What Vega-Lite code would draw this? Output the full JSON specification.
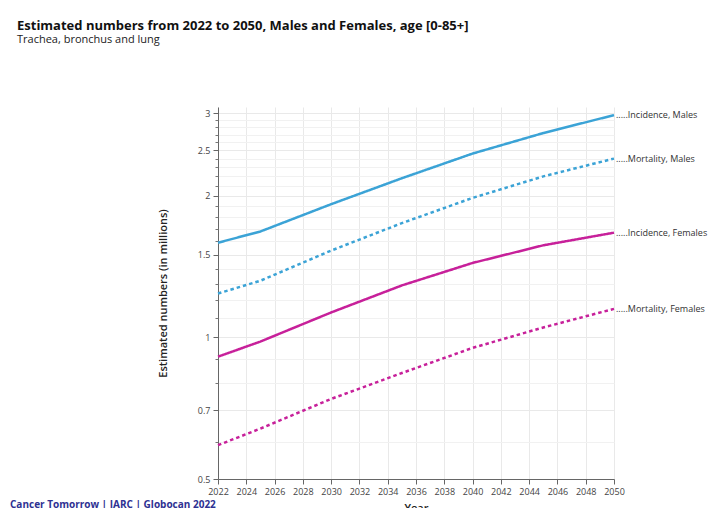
{
  "$schema": "https://vega.github.io/schema/vega-lite/v6.json",
  "width": 396,
  "height": 372,
  "autosize": {"type": "none"},
  "padding": {"left": 218, "top": 107, "right": 98, "bottom": 29},
  "background": "white",
  "config": {
    "view": {"stroke": null},
    "axisX": {"labelOverlap": false, "labelFlush": false}
  },
  "title": {
    "text": "Estimated numbers from 2022 to 2050, Males and Females, age [0-85+]",
    "subtitle": "Trachea, bronchus and lung",
    "anchor": "start",
    "frame": "group",
    "dx": -201,
    "offset": 62,
    "font": "Open Sans",
    "fontSize": 13,
    "fontWeight": "bold",
    "color": "#111111",
    "subtitleFont": "Open Sans",
    "subtitleFontSize": 11,
    "subtitleColor": "#222222",
    "subtitlePadding": 1
  },
  "data": {
    "values": [
      {"series": "Incidence, Males", "measure": "Incidence", "sex": "Males", "year": 2022, "value": 1.59},
      {"series": "Incidence, Males", "measure": "Incidence", "sex": "Males", "year": 2025, "value": 1.68},
      {"series": "Incidence, Males", "measure": "Incidence", "sex": "Males", "year": 2030, "value": 1.92},
      {"series": "Incidence, Males", "measure": "Incidence", "sex": "Males", "year": 2035, "value": 2.18},
      {"series": "Incidence, Males", "measure": "Incidence", "sex": "Males", "year": 2040, "value": 2.46},
      {"series": "Incidence, Males", "measure": "Incidence", "sex": "Males", "year": 2045, "value": 2.72},
      {"series": "Incidence, Males", "measure": "Incidence", "sex": "Males", "year": 2050, "value": 2.97},
      {"series": "Mortality, Males", "measure": "Mortality", "sex": "Males", "year": 2022, "value": 1.24},
      {"series": "Mortality, Males", "measure": "Mortality", "sex": "Males", "year": 2025, "value": 1.32},
      {"series": "Mortality, Males", "measure": "Mortality", "sex": "Males", "year": 2030, "value": 1.53},
      {"series": "Mortality, Males", "measure": "Mortality", "sex": "Males", "year": 2035, "value": 1.75},
      {"series": "Mortality, Males", "measure": "Mortality", "sex": "Males", "year": 2040, "value": 1.98},
      {"series": "Mortality, Males", "measure": "Mortality", "sex": "Males", "year": 2045, "value": 2.2},
      {"series": "Mortality, Males", "measure": "Mortality", "sex": "Males", "year": 2050, "value": 2.4},
      {"series": "Incidence, Females", "measure": "Incidence", "sex": "Females", "year": 2022, "value": 0.91},
      {"series": "Incidence, Females", "measure": "Incidence", "sex": "Females", "year": 2025, "value": 0.98},
      {"series": "Incidence, Females", "measure": "Incidence", "sex": "Females", "year": 2030, "value": 1.13},
      {"series": "Incidence, Females", "measure": "Incidence", "sex": "Females", "year": 2035, "value": 1.29},
      {"series": "Incidence, Females", "measure": "Incidence", "sex": "Females", "year": 2040, "value": 1.44},
      {"series": "Incidence, Females", "measure": "Incidence", "sex": "Females", "year": 2045, "value": 1.57},
      {"series": "Incidence, Females", "measure": "Incidence", "sex": "Females", "year": 2050, "value": 1.67},
      {"series": "Mortality, Females", "measure": "Mortality", "sex": "Females", "year": 2022, "value": 0.59},
      {"series": "Mortality, Females", "measure": "Mortality", "sex": "Females", "year": 2025, "value": 0.64},
      {"series": "Mortality, Females", "measure": "Mortality", "sex": "Females", "year": 2030, "value": 0.74},
      {"series": "Mortality, Females", "measure": "Mortality", "sex": "Females", "year": 2035, "value": 0.84},
      {"series": "Mortality, Females", "measure": "Mortality", "sex": "Females", "year": 2040, "value": 0.95},
      {"series": "Mortality, Females", "measure": "Mortality", "sex": "Females", "year": 2045, "value": 1.05},
      {"series": "Mortality, Females", "measure": "Mortality", "sex": "Females", "year": 2050, "value": 1.15}
    ]
  },
  "layer": [
    {
      "mark": {"type": "line", "strokeWidth": 2.5, "clip": false},
      "encoding": {
        "x": {
          "field": "year",
          "type": "quantitative",
          "scale": {"domain": [2022, 2050], "nice": false, "zero": false},
          "axis": {
            "orient": "bottom",
            "values": [2022, 2024, 2026, 2028, 2030, 2032, 2034, 2036, 2038, 2040, 2042, 2044, 2046, 2048, 2050],
            "format": "d",
            "labelFlush": false,
            "labelOverlap": false,
            "labelSeparation": 0,
            "grid": true,
            "gridColor": "#e9e9e9",
            "tickSize": 5,
            "tickColor": "#666666",
            "domainColor": "#666666",
            "labelFont": "Open Sans",
            "labelFontSize": 9,
            "labelColor": "#444444",
            "labelPadding": 3,
            "title": "Year",
            "titleFont": "Open Sans",
            "titleFontSize": 11,
            "titleFontWeight": 600,
            "titleColor": "#222222",
            "titlePadding": 6
          }
        },
        "y": {
          "field": "value",
          "type": "quantitative",
          "scale": {"type": "log", "domain": [0.5, 3.09], "nice": false},
          "axis": {
            "values": [0.5, 0.7, 1, 1.5, 2, 2.5, 3],
            "format": "~g",
            "grid": true,
            "gridColor": "#e9e9e9",
            "tickSize": 5,
            "tickColor": "#666666",
            "domainColor": "#666666",
            "labelFont": "Open Sans",
            "labelFontSize": 9,
            "labelColor": "#444444",
            "labelPadding": 3,
            "title": "Estimated numbers (in millions)",
            "titleFont": "Open Sans",
            "titleFontSize": 11,
            "titleFontWeight": 600,
            "titleColor": "#222222",
            "titlePadding": 29
          }
        },
        "color": {
          "field": "sex",
          "type": "nominal",
          "scale": {"domain": ["Males", "Females"], "range": ["#3BA3D6", "#C7209A"]},
          "legend": null
        },
        "strokeDash": {
          "field": "measure",
          "type": "nominal",
          "scale": {"domain": ["Incidence", "Mortality"], "range": [[1, 0], [3.5, 3]]},
          "legend": null
        },
        "detail": {"field": "series", "type": "nominal"}
      }
    },
    {
      "transform": [
        {"filter": "datum.year === 2050"},
        {"calculate": "'.....' + datum.series", "as": "lbl"}
      ],
      "mark": {"type": "text", "align": "left", "baseline": "middle", "dx": 2, "font": "Open Sans", "fontSize": 9, "color": "#333333", "clip": false},
      "encoding": {
        "x": {"field": "year", "type": "quantitative", "axis": null},
        "y": {
          "field": "value",
          "type": "quantitative",
          "axis": {
            "orient": "left",
            "values": [0.6, 0.8, 0.9, 1.1, 1.2, 1.3, 1.4, 1.6, 1.7, 1.8, 1.9, 2.1, 2.2, 2.3, 2.4, 2.6, 2.7, 2.8, 2.9],
            "labels": false,
            "domain": false,
            "tickSize": 3,
            "tickColor": "#777777",
            "grid": true,
            "gridColor": "#f1f1f1",
            "title": null
          }
        },
        "text": {"field": "lbl"}
      }
    },
    {
      "data": {"values": [{"note": "Cancer Tomorrow | IARC | Globocan 2022"}]},
      "mark": {"type": "text", "align": "left", "baseline": "alphabetic", "dx": -208, "dy": 29, "font": "Open Sans", "fontSize": 10, "fontWeight": "bold", "color": "#2E3192", "clip": false},
      "encoding": {
        "x": {"datum": 2022, "type": "quantitative", "axis": null},
        "y": {"datum": 0.5, "type": "quantitative", "axis": null},
        "text": {"field": "note", "type": "nominal"}
      }
    }
  ],
  "resolve": {"axis": {"x": "independent", "y": "independent"}}
}
